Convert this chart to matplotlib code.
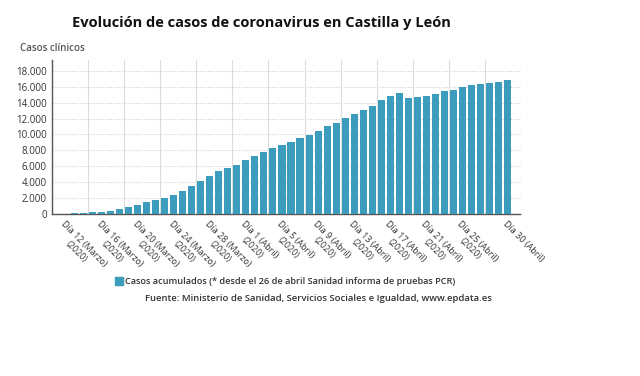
import matplotlib
matplotlib.use('Agg')
import matplotlib.pyplot as plt
import numpy as np

plt.rcParams['font.family'] = ['Open Sans', 'DejaVu Sans']
plt.rcParams['font.stretch'] = 'normal'

# days from 12 March to 30 April 2020
dias = [f'Día {d} (Marzo)' for d in range(12, 32)] + [f'Día {d} (Abril)' for d in range(1, 31)]
casos = [20, 40, 90, 170, 260, 400, 610, 820, 1110, 1420,
         1700, 2000, 2410, 2850, 3440, 4070, 4740, 5370, 5750, 6210,
         6800, 7300, 7810, 8310, 8690, 9060, 9530, 9990, 10490, 11040,
         11500, 12090, 12590, 13130, 13640, 14350, 14860, 15270, 14600, 14770,
         14900, 15110, 15440, 15650, 15950, 16200, 16410, 16530, 16620, 16830]
yticks = list(range(0, 18001, 2000))

BAR = '#3b9dbb'
TXT = '#333333'

fig = plt.figure(figsize=(6.4, 3.76), dpi=100, facecolor='white')
ax = fig.add_axes([0.0817, 0.4316, 0.7319, 0.4088])

x = np.arange(len(casos))
ax.bar(x, casos, width=0.78, color=BAR, zorder=3)

ax.set_xlim(-1.5, 50.5)
ax.set_ylim(0, 19400)

# grid
for yv in yticks[1:]:
    ax.axhline(yv, color='#cfcfcf', lw=0.8, ls=(0, (1, 1.5)), zorder=1)
for gx in np.arange(2.5, 51, 4):
    ax.axvline(gx, color='#dcdcdc', lw=0.8, zorder=1)

for s in ['top', 'right']:
    ax.spines[s].set_visible(False)
for s in ['left', 'bottom']:
    ax.spines[s].set_color('#555555')
    ax.spines[s].set_linestyle((0, (1, 1)))
    ax.spines[s].set_linewidth(1.0)

ax.set_yticks(yticks)
ax.set_yticklabels([f'{v:,}'.replace(',', '.') for v in yticks], fontsize=7, color=TXT)
ax.tick_params(axis='y', length=0, pad=4)

tick_idx = list(range(0, 48, 4)) + [49]
ax.set_xticks(tick_idx)
labels = []
for i in tick_idx:
    if i == 49:
        labels.append(dias[i])
    else:
        labels.append(dias[i] + '\n(2020)')
ax.set_xticklabels(labels, rotation=-45, ha='left', va='top', rotation_mode='anchor',
                   fontsize=6.5, color=TXT, multialignment='center')
ax.tick_params(axis='x', length=0, pad=4)
for lab in ax.get_xticklabels():
    lab.set_linespacing(1.3)

fig.text(0.408, 0.94, 'Evolución de casos de coronavirus en Castilla y León',
         ha='center', va='center', fontsize=10.5, fontweight='bold', fontstretch='normal',
         color='#111111')
fig.text(0.031, 0.872, 'Casos clínicos', ha='left', va='center', fontsize=7,
         fontweight='semibold', color='#555555')

# legend
fig.patches.append(plt.Rectangle((0.18, 0.241), 0.0125, 0.021, transform=fig.transFigure,
                                 color=BAR, figure=fig))
fig.text(0.196, 0.2515, 'Casos acumulados (* desde el 26 de abril Sanidad informa de pruebas PCR)',
         ha='left', va='center', fontsize=6.6, fontweight='semibold', color=TXT)
fig.text(0.497, 0.207, 'Fuente: Ministerio de Sanidad, Servicios Sociales e Igualdad, www.epdata.es',
         ha='center', va='center', fontsize=6.8, fontweight='semibold', color=TXT)

fig.savefig('out.png', dpi=100, facecolor='white')
